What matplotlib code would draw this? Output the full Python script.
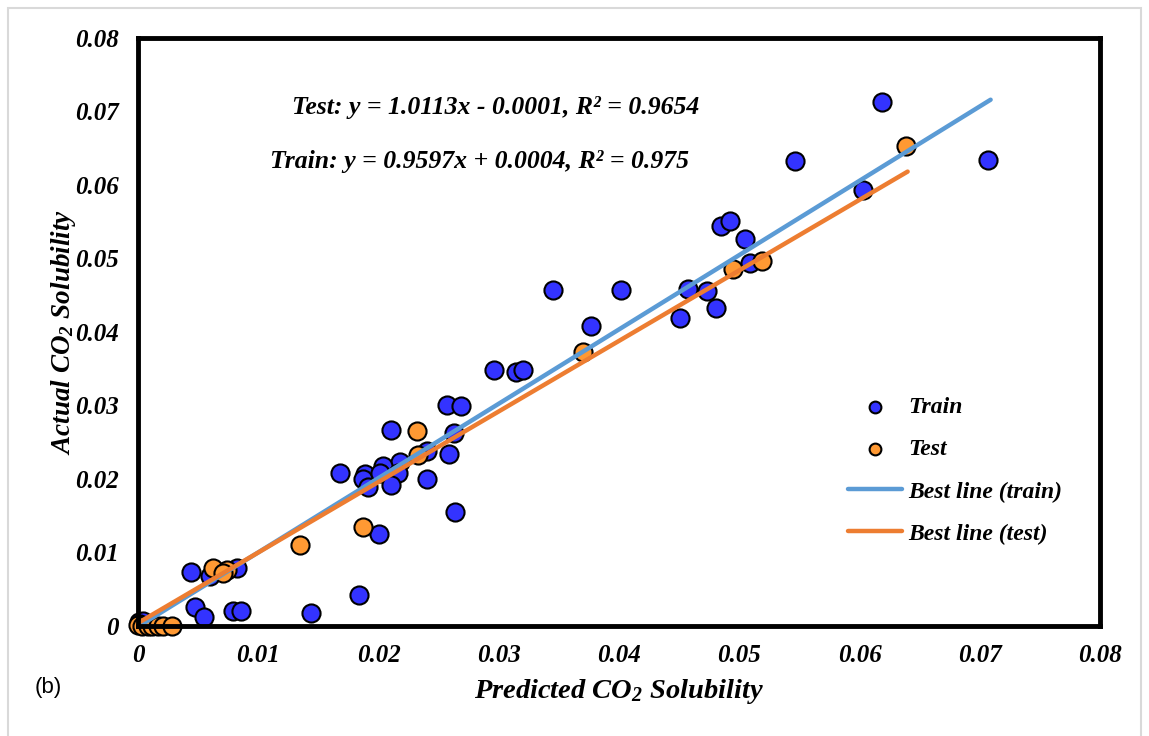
import numpy as np
import matplotlib.pyplot as plt
from matplotlib.patches import Rectangle

plt.rcParams['font.family'] = 'Liberation Serif'
plt.rcParams['mathtext.fontset'] = 'custom'
plt.rcParams['mathtext.rm'] = 'Liberation Serif:italic:bold'
plt.rcParams['mathtext.it'] = 'Liberation Serif:italic:bold'

train_x = [0.0619, 0.0546, 0.0707, 0.0603, 0.0485, 0.0492, 0.0505, 0.0509,
           0.0457, 0.0473, 0.0451, 0.0481, 0.0345, 0.0402, 0.0377, 0.0296,
           0.0314, 0.0320, 0.0257, 0.0269, 0.0210, 0.0263, 0.0240, 0.0259,
           0.0218, 0.0204, 0.0168, 0.0189, 0.0187, 0.0201, 0.0216, 0.0191,
           0.0210, 0.0240, 0.0264, 0.0200, 0.0044, 0.0060, 0.0082, 0.0047,
           0.0055, 0.0079, 0.0086, 0.0144, 0.0184, 0.0001, 0.0004, 0.0002]
train_y = [0.0713, 0.0633, 0.0634, 0.0593, 0.0544, 0.0551, 0.0527, 0.0494,
           0.0458, 0.0456, 0.0419, 0.0433, 0.0457, 0.0457, 0.0408, 0.0348,
           0.0346, 0.0348, 0.0301, 0.0299, 0.0267, 0.0263, 0.0238, 0.0234,
           0.0223, 0.0218, 0.0208, 0.0207, 0.0200, 0.0208, 0.0208, 0.0189,
           0.0192, 0.0200, 0.0155, 0.0125, 0.0073, 0.0068, 0.0079, 0.0026,
           0.0012, 0.0020, 0.0020, 0.0018, 0.0042, 0.0005, 0.0007, 0.0002]

test_x = [0.0639, 0.0495, 0.0519, 0.0370, 0.0232, 0.0233, 0.0187, 0.0135,
          0.0062, 0.0074, 0.0071, 0.0000, 0.0003, 0.0008, 0.0012, 0.0017,
          0.0021, 0.0028]
test_y = [0.0653, 0.0486, 0.0497, 0.0373, 0.0265, 0.0233, 0.0135, 0.0110,
          0.0079, 0.0076, 0.0072, 0.0001, 0.0000, 0.0000, 0.0000, 0.0000,
          0.0000, 0.0000]

# rectas de ajuste (pendiente, intercepto, x maximo)
line_train = (1.0113, -0.0001, 0.0709)
line_test = (0.9597, 0.0004, 0.0640)

fig = plt.figure(figsize=(11.49, 7.36), dpi=100)
ax = fig.add_axes([0.1201, 0.1495, 0.8373, 0.7989])

ax.scatter(train_x, train_y, s=170, c='#3333FF', edgecolors='black',
           linewidths=1.5, zorder=3, label='Train', clip_on=False)
ax.scatter(test_x, test_y, s=170, c='#FF9933', edgecolors='black',
           linewidths=1.5, zorder=4, label='Test', clip_on=False)

xs = np.array([0, line_train[2]])
ax.plot(xs, line_train[0] * xs + line_train[1], color='#5B9BD5', lw=3.2,
        solid_capstyle='round', zorder=5, label='Best line (train)')
xs = np.array([0, line_test[2]])
ax.plot(xs, line_test[0] * xs + line_test[1], color='#ED7D31', lw=3.2,
        solid_capstyle='round', zorder=5, label='Best line (test)')

ax.set_xlim(0, 0.08)
ax.set_ylim(0, 0.08)
ticks = np.arange(0, 0.081, 0.01)
ax.set_xticks(ticks)
ax.set_yticks(ticks)
ax.set_xticklabels(['0'] + ['%.2f' % t for t in ticks[1:]])
ax.set_yticklabels(['0'] + ['%.2f' % t for t in ticks[1:]])
ax.tick_params(length=0, labelsize=18)
ax.tick_params(axis='x', pad=13)
ax.tick_params(axis='y', pad=14)
for lab in ax.get_xticklabels() + ax.get_yticklabels():
    lab.set_fontweight('bold')
    lab.set_fontstyle('italic')

for sp in ax.spines.values():
    sp.set_linewidth(3.5)
    sp.set_color('black')
    sp.set_zorder(6)
ax.add_patch(Rectangle((0, 0), 1, 1, transform=ax.transAxes, fill=False,
                       ec='#888888', lw=1, zorder=6, clip_on=False))

ax.set_xlabel('Predicted CO$_2$ Solubility', fontsize=20.5, fontweight='bold',
              fontstyle='italic', labelpad=7)
ax.set_ylabel('Actual CO$_2$ Solubility', fontsize=19.5, fontweight='bold',
              fontstyle='italic', labelpad=-2.5)

ax.text(0.0128, 0.0705, 'Test: y = 1.0113x - 0.0001, R² = 0.9654', fontsize=18.5,
        fontweight='bold', fontstyle='italic', va='center')
ax.text(0.0110, 0.0632, 'Train: y = 0.9597x + 0.0004, R² = 0.975', fontsize=18.5,
        fontweight='bold', fontstyle='italic', va='center')

leg = ax.legend(loc='center left', bbox_to_anchor=(0.716, 0.264), frameon=False,
                fontsize=17, markerscale=0.65, handlelength=2.3,
                labelspacing=0.87, handletextpad=0.25)
for t in leg.get_texts():
    t.set_fontweight('bold')
    t.set_fontstyle('italic')

fig.text(48 / 1149, 1 - 688 / 736, '(b)', fontsize=16, family='Liberation Sans',
         va='center', ha='center')

fig.patches.append(Rectangle((8 / 1149, -0.01), 1133 / 1149, 1 - 8 / 736 + 0.01,
                             transform=fig.transFigure, fill=False,
                             ec='#d9d9d9', lw=1.5))

fig.savefig('out.png', dpi=100)
